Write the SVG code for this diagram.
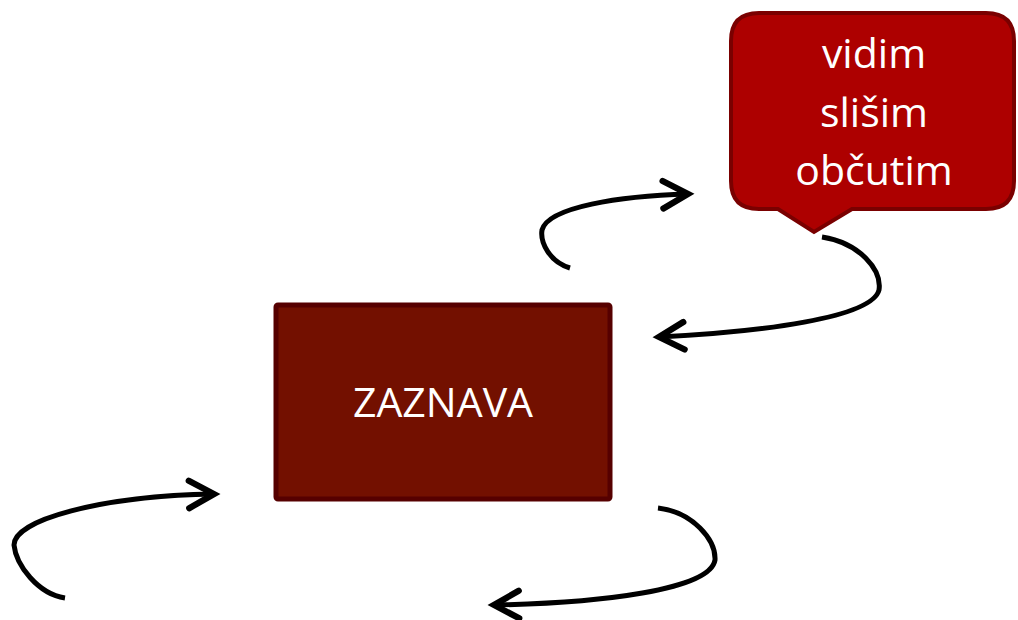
<svg xmlns="http://www.w3.org/2000/svg" width="1018" height="620" viewBox="0 0 1018 620">
<style>
.lbl{font-family:"Open Sans","Noto Sans","Liberation Sans",sans-serif;font-size:41px;fill:#ffffff;text-anchor:middle}
.conn{fill:none;stroke:#000000;stroke-width:5;stroke-linecap:butt}
</style>
<defs>
<marker id="chev" markerUnits="userSpaceOnUse" markerWidth="40" markerHeight="40" viewBox="-26 -16 32 32" refX="0" refY="0" orient="auto" overflow="visible">
<path d="M-20,-11 L0,0 L-20,11" fill="none" stroke="#000000" stroke-width="5" stroke-linecap="round" stroke-linejoin="miter"/>
</marker>
</defs>
<rect width="1018" height="620" fill="#ffffff"/>
<g id="callout">
<path d="M759,13 H986 Q1014,13 1014,41 V181 Q1014,209 986,209 H852 L814,232 L778,209 H759 Q731,209 731,181 V41 Q731,13 759,13 Z" fill="#ad0000" stroke="#7a0000" stroke-width="4"/>
<text class="lbl" x="874" y="68">vidim</text>
<text class="lbl" x="874" y="127">slišim</text>
<text class="lbl" x="874" y="185">občutim</text>
</g>
<g id="zaznava">
<rect x="276" y="305" width="334" height="194" rx="2" fill="#731000" stroke="#560000" stroke-width="5"/>
<text class="lbl" x="443" y="417">ZAZNAVA</text>
</g>
<g id="connectors">
<path class="conn" d="M570,268 C550,262 540,243 542,230 C548,207 620,196 688,194" marker-end="url(#chev)"/>
<path class="conn" d="M822,237 C860,243 882,270 879,290 C872,318 760,332 659,337" marker-end="url(#chev)"/>
<path class="conn" d="M65,598 C38,594 16,565 14,545 C14,520 100,496 214,494" marker-end="url(#chev)"/>
<path class="conn" d="M658,508 C693,512 716,540 715,560 C710,590 600,603 494,605" marker-end="url(#chev)"/>
</g>
</svg>
